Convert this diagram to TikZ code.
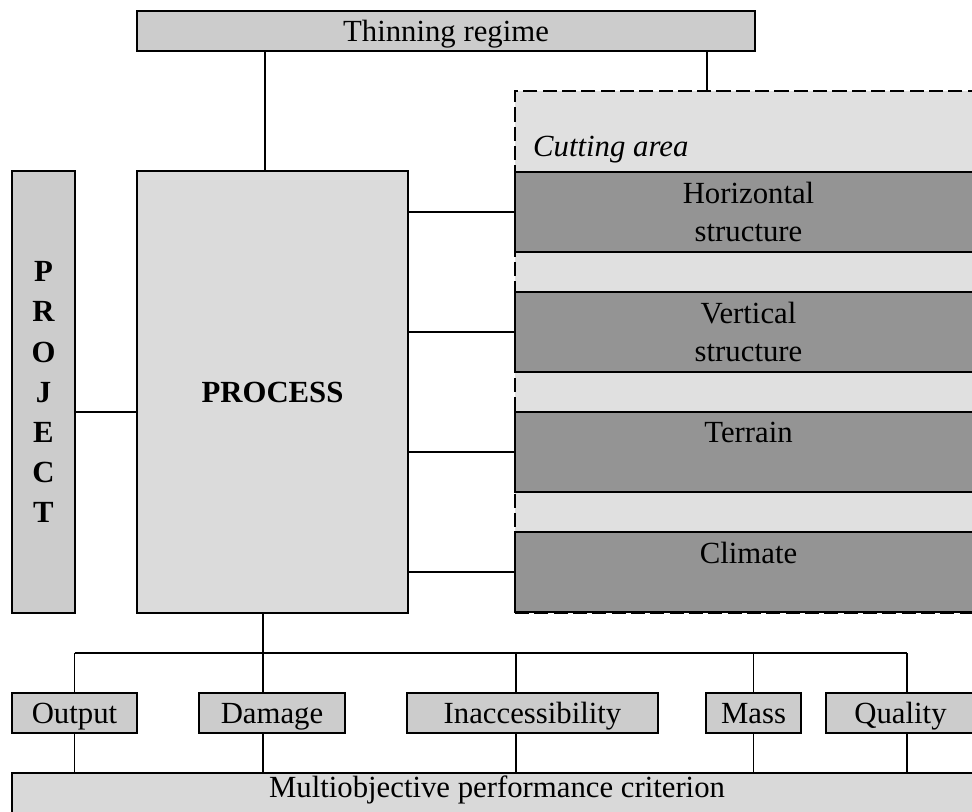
\documentclass[tikz,border=0pt]{standalone}
\usepackage{fontspec}
\setmainfont{Liberation Serif}

\begin{document}
\begin{tikzpicture}[x=0.02cm, y=-0.02cm,
    every node/.style={font=\fontsize{17.5}{22}\selectfont},
    box/.style={draw, line width=1.2pt, fill=black!20, inner sep=0pt, align=center},
    band/.style={box, fill=black!42, minimum width=9.34cm, minimum height=1.6cm},
    crit/.style={box, minimum height=0.8cm, text height=11.5pt, text depth=0pt},
    heavy/.style={font=\fontsize{17.5}{22.8}\selectfont\bfseries},
    link/.style={line width=0.9pt}]
    \useasboundingbox (0,0) rectangle (972,811);
    \clip (0,0) rectangle (972,811);

    % top and left blocks
    \node[box, minimum width=12.36cm, minimum height=0.8cm, text height=11.5pt, text depth=0pt] (thin) at (446,31) {Thinning regime};
    \node[box, heavy, minimum width=1.26cm, minimum height=8.84cm] (project) at (43.5,392) {P\\R\\O\\J\\E\\C\\T};
    \node[box, heavy, fill=black!14, minimum width=5.42cm, minimum height=8.84cm] (process) at (272.5,392) {PROCESS};

    % cutting area
    \node[draw, dash pattern=on 8pt off 3pt, line width=1.2pt, fill=black!12,
          minimum width=9.5cm, minimum height=10.44cm] (area) at (752.5,352) {};
    \node[anchor=west, font=\fontsize{17.5}{22}\selectfont\itshape] (cut) at (527,150) {Cutting area};
    \foreach \name/\y/\txt in {hor/209/{Horizontal\\structure}, ver/329/{Vertical\\structure},
                               ter/449/{Terrain\\\mbox{}}, cli/569/{Climate\\\mbox{}}} {
        \node[band, yshift=-0.06cm] (\name) at (748.5,\y) {\txt};
        \draw[link] (\name.west) -- (\name.west -| process.east);
    }

    \draw[link] ([xshift=-0.15cm]process.north) -- ([xshift=-0.15cm]process.north |- thin.south);
    \draw[link] ([xshift=-0.91cm]area.north) -- ([xshift=-0.91cm]area.north |- thin.south);
    \draw[link] ([yshift=-0.4cm]project.east) -- ([yshift=-0.4cm]process.west);

    % criteria
    \foreach \name/\x/\w/\txt in {out/74.5/2.5/Output, dam/272/2.92/Damage,
                                  inac/532.5/5.02/Inaccessibility, mass/753.5/1.9/Mass,
                                  qual/900.5/2.98/Quality} {
        \node[crit, minimum width=\w cm] (\name) at (\x,713) {\txt};
    }
    \node[box, fill=black!15, minimum width=19.4cm, minimum height=0.84cm,
          text height=11.5pt, text depth=7pt] (multi) at (497,794) {Multiobjective performance criterion};

    \coordinate (bus) at (0,653);
    \draw[link] (out.north |- bus) -- ([xshift=0.13cm]qual.north |- bus);
    \draw[link] ([xshift=-0.19cm]process.south) -- ([xshift=-0.19cm]process.south |- bus);
    \foreach \name/\s in {out/0, dam/-0.18, inac/-0.33, mass/0, qual/0.13} {
        \draw[link] ([xshift=\s cm]\name.north) -- ([xshift=\s cm]\name.north |- bus);
        \draw[link] ([xshift=\s cm]\name.south) -- ([xshift=\s cm]\name.south |- multi.north);
    }
\end{tikzpicture}
\end{document}
